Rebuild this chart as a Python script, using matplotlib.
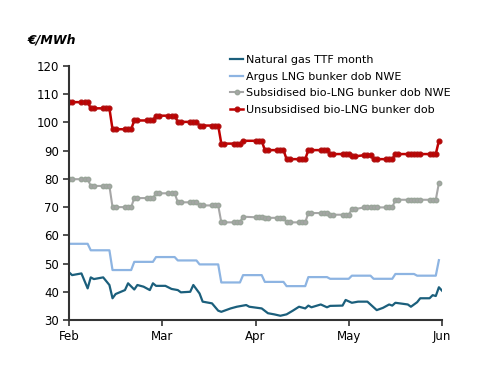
import matplotlib.pyplot as plt

# x values are days counted from 1 Feb
month_labels = ['Feb', 'Mar', 'Apr', 'May', 'Jun']
month_days = [0, 30, 60, 90, 120]

ttf_days = [0, 1, 4, 6, 7, 8, 11, 13, 14, 15, 18, 19, 21, 22, 24, 26, 27, 28, 31, 33,
            35, 36, 39, 40, 42, 43, 46, 48, 49, 52, 54, 57, 58, 62, 64, 66, 68, 70, 72, 74,
            76, 77, 78, 81, 83, 84, 88, 89, 91, 93, 96, 99, 101, 103, 104, 105, 109, 110,
            112, 113, 116, 117, 118, 119, 120]
ttf_vals = [46.9, 45.9, 46.5, 41.2, 45.1, 44.5, 45.1, 42.4, 37.7, 39.2, 40.6, 43.0, 40.8,
            42.4, 41.8, 40.6, 43.0, 42.1, 42.1, 41.0, 40.6, 39.8, 40.0, 42.4, 39.4, 36.5,
            35.9, 33.3, 32.9, 34.1, 34.7, 35.3, 34.7, 34.1, 32.4, 32.0, 31.5, 32.0, 33.3,
            34.7, 34.1, 35.1, 34.5, 35.5, 34.5, 35.0, 35.1, 37.1, 36.1, 36.5, 36.5, 33.5,
            34.3, 35.5, 35.1, 36.1, 35.5, 34.7, 36.3, 37.7, 37.7, 38.8, 38.5, 41.6, 40.4]

argus_days = [0, 6, 7, 13, 14, 20, 21, 27, 28, 34, 35, 41, 42, 48, 49, 55, 56, 62, 63, 69,
              70, 76, 77, 83, 84, 90, 91, 97, 98, 104, 105, 111, 112, 118, 119]
argus_vals = [57.0, 57.0, 54.7, 54.7, 47.7, 47.7, 50.6, 50.6, 52.3, 52.3, 51.1, 51.1,
              49.7, 49.7, 43.3, 43.3, 45.9, 45.9, 43.5, 43.5, 42.0, 42.0, 45.2, 45.2,
              44.6, 44.6, 45.7, 45.7, 44.6, 44.6, 46.3, 46.3, 45.7, 45.7, 51.2]

bio_days = [0, 1, 4, 5, 6, 7, 8, 11, 12, 13, 14, 15, 18, 19, 20, 21, 22, 25, 26, 27,
            28, 29, 32, 33, 34, 35, 36, 39, 40, 41, 42, 43, 46, 47, 48, 49, 50, 53, 54, 55,
            56, 60, 61, 62, 63, 64, 67, 68, 69, 70, 71, 74, 75, 76, 77, 78, 81, 82, 83,
            84, 85, 88, 89, 90, 91, 92, 95, 96, 97, 98, 99, 102, 103, 104, 105, 106, 109,
            110, 111, 112, 113, 116, 117, 118, 119]
sub_vals = [79.9, 79.9, 79.9, 79.9, 79.9, 77.5, 77.5, 77.5, 77.5, 77.5, 70.0, 70.0, 70.0,
            70.0, 70.0, 73.2, 73.2, 73.2, 73.2, 73.2, 74.9, 74.9, 74.9, 74.9, 74.9, 71.7,
            71.7, 71.7, 71.7, 71.7, 70.6, 70.6, 70.6, 70.6, 70.6, 64.6, 64.6, 64.6, 64.6,
            64.6, 66.6, 66.4, 66.4, 66.4, 66.2, 66.2, 66.2, 66.2, 66.2, 64.6, 64.6, 64.6,
            64.6, 64.6, 67.9, 67.9, 67.9, 67.9, 67.9, 67.3, 67.3, 67.3, 67.3, 67.3, 69.3,
            69.3, 69.9, 69.9, 69.9, 69.9, 69.9, 69.9, 69.9, 69.9, 72.6, 72.6, 72.6, 72.6,
            72.6, 72.6, 72.6, 72.6, 72.6, 72.6, 78.5]
unsub_vals = [107.2, 107.2, 107.2, 107.2, 107.2, 105.0, 105.0, 105.0, 105.0, 105.0, 97.6,
              97.6, 97.6, 97.6, 97.6, 100.7, 100.7, 100.7, 100.7, 100.7, 102.4, 102.4,
              102.4, 102.4, 102.4, 100.2, 100.2, 100.2, 100.2, 100.2, 98.9, 98.9, 98.9,
              98.9, 98.9, 92.5, 92.5, 92.5, 92.5, 92.5, 93.5, 93.5, 93.5, 93.5, 90.2, 90.2,
              90.2, 90.2, 90.2, 87.0, 87.0, 87.0, 87.0, 87.0, 90.2, 90.2, 90.2, 90.2, 90.2,
              88.8, 88.8, 88.8, 88.8, 88.8, 88.0, 88.0, 88.4, 88.4, 88.4, 87.0, 87.0, 87.0,
              87.0, 87.0, 88.8, 88.8, 88.8, 88.8, 88.8, 88.8, 88.8, 88.8, 88.8, 88.8, 93.5]

plt.rcParams['font.family'] = 'DejaVu Sans'

fig = plt.figure(figsize=(5, 3.86), dpi=100)
ax = fig.add_axes([0.138, 0.171, 0.746, 0.658])

ax.plot(ttf_days, ttf_vals, color='#1B5F7C', lw=1.6, label='Natural gas TTF month')
ax.plot(argus_days, argus_vals, color='#8DB4E2', lw=1.6, label='Argus LNG bunker dob NWE')
ax.plot(bio_days, sub_vals, color='#A6A6A6', lw=1.5, marker='o', ms=3.2,
        mfc='#A6A6A6', mec='#9AA59A', label='Subsidised bio-LNG bunker dob NWE')
ax.plot(bio_days, unsub_vals, color='#C00000', lw=1.8, marker='o', ms=3.4,
        mfc='#C00000', mec='#B01010', label='Unsubsidised bio-LNG bunker dob')

ax.set_xlim(0, 120)
ax.set_ylim(30, 120)
ax.set_yticks(range(30, 121, 10))
ax.set_xticks(month_days)
ax.set_xticklabels(month_labels)

for s in ['top', 'right']:
    ax.spines[s].set_visible(False)
for s in ['left', 'bottom']:
    ax.spines[s].set_color('#333333')
    ax.spines[s].set_linewidth(1.5)
ax.tick_params(axis='both', direction='out', length=4, width=1.2, color='#333333',
               labelsize=8.5, pad=3)

ax.text(-0.112, 1.075, '€/MWh', transform=ax.transAxes, fontsize=9,
        fontweight='bold', fontstyle='italic', va='bottom', ha='left')

ax.legend(loc='upper left', bbox_to_anchor=(0.42, 1.06), frameon=False, fontsize=8,
          handlelength=1.2, handletextpad=0.2, labelspacing=0.58, borderaxespad=0)

plt.savefig('out.png', dpi=100)
